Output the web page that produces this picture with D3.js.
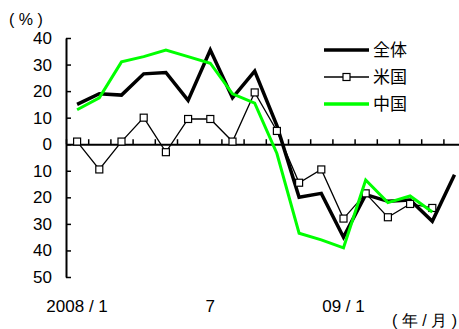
<!DOCTYPE html>
<html>
<head>
<meta charset="utf-8">
<script src="https://cdn.jsdelivr.net/npm/d3@7"></script>
<style>
  body { margin: 0; background: #fff; }
  svg { display: block; font-family: "Liberation Sans", Arial, sans-serif; }
</style>
</head>
<body>
<div id="chart"></div>
<script>
// months 2008/1 .. 2009/6
const months = ['2008/1', '2', '3', '4', '5', '6', '7', '8', '9', '10', '11', '12',
    '09/1', '2', '3', '4', '5', '6'];
const monthLabels = { 0: '2008 / 1', 6: '7', 12: '09 / 1' };

// year-on-year change (%)
const total = [15, 19, 18.5, 26.5, 27, 16.5, 35.5, 17.5, 27.5, 7, -20, -18.5, -35, -19, -21.5, -21, -29, -11.5];
const usa = [1, -9.5, 1, 10, -3, 9.5, 9.5, 1, 19.5, 5, -14.5, -9.5, -28, -18.5, -27.5, -22.5, -24];
const china = [13, 17.5, 31, 33, 35.5, 33, 30.5, 19, 15.5, -3.5, -33.5, -36, -39, -13.5, -22, -19.5, -25.5];

const yTicks = [40, 30, 20, 10, 0, -10, -20, -30, -40, -50];

const seriesNames = ['全体', '米国', '中国'];
const green = '#00ff00';

const width = 459, height = 329;

const svg = d3.select('#chart')
    .append('svg')
    .attr('width', width)
    .attr('height', height);

// x: month slots, points sit in the middle of each slot
const x = d3.scaleLinear()
    .domain([0, months.length])
    .range([66, 66 + 22.2 * months.length]);

const y = d3.scaleLinear()
    .domain([-50, 40])
    .range([277, 38]);

// y axis (labels shown without sign)
const yAxis = d3.axisLeft(y)
    .tickValues(yTicks)
    .tickSize(-5)
    .tickSizeOuter(0)
    .tickPadding(14)
    .tickFormat(d => Math.abs(d));

const yAxisGroup = svg.append('g')
    .attr('transform', `translate(${x(0)}, 0)`)
    .call(yAxis);
yAxisGroup.select('.domain').attr('stroke-width', 2);
yAxisGroup.selectAll('.tick line').attr('stroke-width', 1.5);
yAxisGroup.selectAll('.tick text')
    .attr('font-size', '17px')
    .attr('fill', '#000');

// zero line with month ticks
const xAxis = d3.axisBottom(x)
    .tickValues(d3.range(0, months.length + 1))
    .tickSize(-5)
    .tickSizeOuter(0)
    .tickFormat('');

const xAxisGroup = svg.append('g')
    .attr('transform', `translate(0, ${y(0)})`)
    .call(xAxis);
xAxisGroup.select('.domain').attr('stroke-width', 2);
xAxisGroup.selectAll('.tick line').attr('stroke-width', 1.5);

// month labels
svg.append('g')
    .selectAll('text')
    .data(Object.keys(monthLabels))
    .enter()
    .append('text')
    .attr('x', d => x(+d + 0.5))
    .attr('y', 312)
    .attr('text-anchor', 'middle')
    .attr('font-size', '17px')
    .text(d => monthLabels[d]);

svg.append('text')
    .attr('x', 9)
    .attr('y', 25)
    .attr('font-size', '16px')
    .text('( % )');

svg.append('text')
    .attr('x', 457)
    .attr('y', 326)
    .attr('text-anchor', 'end')
    .attr('font-size', '16px')
    .text('( 年 / 月 )');

const line = d3.line()
    .x((d, i) => x(i + 0.5))
    .y(d => y(d));

// 全体
svg.append('path')
    .datum(total)
    .attr('fill', 'none')
    .attr('stroke', '#000')
    .attr('stroke-width', 3.5)
    .attr('stroke-linejoin', 'miter')
    .attr('d', line);

// 米国
svg.append('path')
    .datum(usa)
    .attr('fill', 'none')
    .attr('stroke', '#000')
    .attr('stroke-width', 1.3)
    .attr('d', line);

svg.append('g')
    .selectAll('rect')
    .data(usa)
    .enter()
    .append('rect')
    .attr('x', (d, i) => x(i + 0.5) - 3.5)
    .attr('y', d => y(d) - 3.5)
    .attr('width', 7)
    .attr('height', 7)
    .attr('fill', '#fff')
    .attr('stroke', '#000')
    .attr('stroke-width', 1.2);

// 中国
svg.append('path')
    .datum(china)
    .attr('fill', 'none')
    .attr('stroke', green)
    .attr('stroke-width', 3)
    .attr('d', line);

// Legend
const legend = svg.selectAll('.legend')
    .data(seriesNames)
    .enter()
    .append('g')
    .attr('class', 'legend')
    .attr('transform', (d, i) => `translate(324, ${50 + i * 27})`);

legend.append('line')
    .attr('x1', 0)
    .attr('x2', 45)
    .attr('stroke', (d, i) => i === 2 ? green : '#000')
    .attr('stroke-width', (d, i) => i === 1 ? 1.3 : 3.5);

legend.filter((d, i) => i === 1)
    .append('rect')
    .attr('x', 19)
    .attr('y', -3.5)
    .attr('width', 7)
    .attr('height', 7)
    .attr('fill', '#fff')
    .attr('stroke', '#000')
    .attr('stroke-width', 1.2);

legend.append('text')
    .attr('x', 49)
    .attr('dy', '0.36em')
    .attr('font-size', '17px')
    .attr('font-family', '"Noto Sans CJK JP", sans-serif')
    .text(d => d);
</script>
</body>
</html>
